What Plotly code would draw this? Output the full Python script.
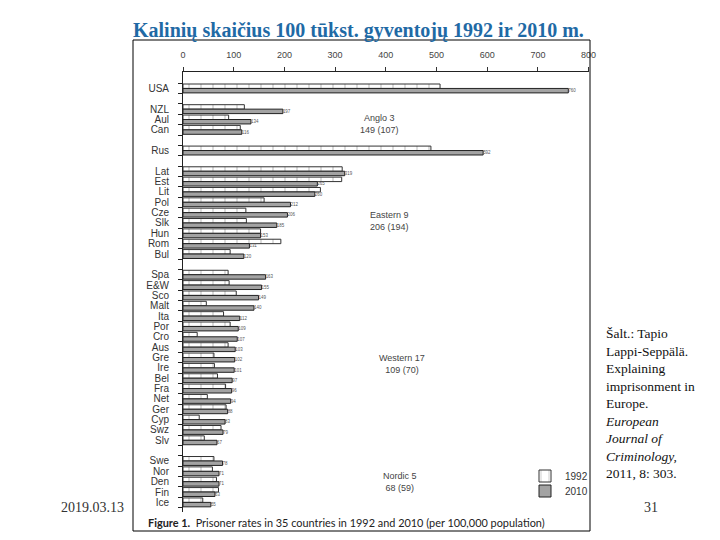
import plotly.graph_objects as go

W, H = 720, 540
OFF = 8  # the page body margin shifts the figure by this many pixels

# ---- data ----
group_anglo = ["NZL", "Aul", "Can"]
group_eastern = ["Lat", "Est", "Lit", "Pol", "Cze", "Slk", "Hun", "Rom", "Bul"]
group_western = ["Spa", "E&W", "Sco", "Malt", "Ita", "Por", "Cro", "Aus", "Gre",
                 "Ire", "Bel", "Fra", "Net", "Ger", "Cyp", "Swz", "Slv"]
group_nordic = ["Swe", "Nor", "Den", "Fin", "Ice"]
groups = [["USA"], group_anglo, ["Rus"], group_eastern, group_western, group_nordic]

rate_1992 = [507, 121, 90, 113, 489,
             314, 313, 271, 160, 124, 125, 153, 193, 93,
             89, 91, 105, 46, 80, 93, 28, 89, 61, 62, 68, 84, 48, 85, 32, 75, 42,
             61, 58, 66, 70, 39]
rate_2010 = [760, 197, 134, 116, 592,
             319, 265, 260, 212, 206, 185, 153, 131, 120,
             163, 155, 149, 140, 112, 109, 107, 103, 102, 101, 97, 96, 94, 88, 83, 79, 67,
             78, 71, 71, 63, 55]

x_ticks = [0, 100, 200, 300, 400, 500, 600, 700, 800]

group_notes = ["Anglo 3<br>149 (107)", "Eastern 9<br>206 (194)",
               "Western 17<br>109 (70)", "Nordic 5<br>68 (59)"]

# row positions: one empty row between groups
countries, rows = [], []
r = 0
for gi, g in enumerate(groups):
    if gi > 0:
        r += 1
    for c in g:
        countries.append(c)
        rows.append(r)
        r += 1
n_rows = r

fig = go.Figure()
fig.add_trace(go.Bar(
    name="1992", y=rows, x=rate_1992, orientation="h", legend="legend",
    marker=dict(color="white", line=dict(color="#333333", width=1),
                pattern=dict(shape="|", size=12, solidity=0.1, fgcolor="#888888", bgcolor="white")),
))
fig.add_trace(go.Bar(
    name="2010", y=rows, x=rate_2010, orientation="h", legend="legend2",
    marker=dict(color="#a3a3a3", line=dict(color="#222222", width=1)),
    text=[str(v) for v in rate_2010], textposition="outside",
    textfont=dict(size=6, color="#555555", family="Liberation Sans"),
    cliponaxis=False,
))

# px helpers (screen pixel -> paper fraction)
def px_x(p):
    return (p - OFF) / W

def px_y(p):
    return 1 - (p - OFF) / H

top_idx, bot_idx = -1.59, n_rows - 1 + 0.93

leg_common = dict(xanchor="left", yanchor="middle",
                  font=dict(size=10, color="#333333", family="Liberation Sans"),
                  itemwidth=30, bgcolor="rgba(0,0,0,0)", borderwidth=0)

fig.update_layout(
    width=W, height=H,
    margin=dict(l=0, r=0, t=0, b=0, autoexpand=False),
    paper_bgcolor="white", plot_bgcolor="white",
    barmode="group", bargap=0.14, bargroupgap=0.0,
    font=dict(family="Liberation Sans", color="#333333"),
    showlegend=True,
    legend=dict(x=px_x(525), y=px_y(476), **leg_common),
    legend2=dict(x=px_x(525), y=px_y(491), **leg_common),
    xaxis=dict(
        domain=[px_x(183), px_x(588.6)], range=[0, 800], side="top",
        tickvals=x_ticks, ticktext=[str(v) for v in x_ticks],
        ticks="outside", ticklen=4, tickcolor="#333333",
        showline=True, linecolor="#222222", linewidth=1,
        showgrid=False, zeroline=False, automargin=False,
        tickfont=dict(size=9, color="#444444"),
        ticklabelstandoff=5,
    ),
    yaxis=dict(
        domain=[px_y(512), px_y(72)], range=[bot_idx, top_idx],
        tickvals=rows, ticktext=countries, ticks="",
        showline=True, linecolor="#222222", linewidth=1,
        showgrid=False, zeroline=False, automargin=False,
        tickfont=dict(size=10, color="#333333"),
        ticklabelstandoff=11,
        minor=dict(tickvals=[i - 0.5 for i in range(n_rows + 1)], ticks="outside",
                   ticklen=4, tickcolor="#222222", showgrid=False),
    ),
)

# group annotations (placed beside the middle of each group)
note_groups = [group_anglo, group_eastern, group_western, group_nordic]
note_x = [388, 408, 431, 428]
note_shift = [0.45, 0.8, 0.6, 0.0]
for note, g, nx, sh in zip(group_notes, note_groups, note_x, note_shift):
    idx = [rows[countries.index(c)] for c in g]
    mid = (idx[0] + idx[-1]) / 2 + sh
    fig.add_annotation(x=nx, y=mid, xref="x", yref="y", text=note, showarrow=False,
                       font=dict(size=9, color="#444444", family="Liberation Sans"),
                       align="center")

# frame around the embedded figure
fig.add_shape(type="rect", xref="paper", yref="paper",
              x0=px_x(133), x1=px_x(590), y0=px_y(531), y1=px_y(40),
              line=dict(color="black", width=1), fillcolor="rgba(0,0,0,0)", layer="above")

# caption
fig.add_annotation(xref="paper", yref="paper", x=px_x(146), y=px_y(522),
                   xanchor="left", yanchor="middle", showarrow=False,
                   text="<b>Figure 1.</b>  Prisoner rates in 35 countries in 1992 and 2010 (per 100,000 population)",
                   font=dict(size=10.9, color="#222222", family="Lato"))

# slide title
fig.add_annotation(xref="paper", yref="paper", x=px_x(358), y=px_y(30),
                   xanchor="center", yanchor="middle", showarrow=False,
                   text="<b>Kalinių skaičius 100 tūkst. gyventojų 1992 ir 2010 m.</b>",
                   font=dict(size=20, color="#1f6aa5", family="Liberation Serif"))

# date and page number
fig.add_annotation(xref="paper", yref="paper", x=px_x(92), y=px_y(507),
                   xanchor="center", yanchor="middle", showarrow=False,
                   text="2019.03.13", font=dict(size=14, color="#333333", family="Liberation Serif"))
fig.add_annotation(xref="paper", yref="paper", x=px_x(651), y=px_y(507),
                   xanchor="center", yanchor="middle", showarrow=False,
                   text="31", font=dict(size=14, color="#333333", family="Liberation Serif"))

# source text
src_lines = ["Šalt.: Tapio", "Lappi-Seppälä.", "Explaining", "imprisonment in", "Europe.",
             "<i>European</i>", "<i>Journal of</i>", "<i>Criminology,</i>", "2011, 8: 303."]
fig.add_annotation(xref="paper", yref="paper", x=px_x(603), y=px_y(324),
                   xanchor="left", yanchor="top", showarrow=False, align="left",
                   text="<br>".join(src_lines),
                   font=dict(size=13.5, color="#111111", family="Liberation Serif"))

fig.write_html("out.html")
